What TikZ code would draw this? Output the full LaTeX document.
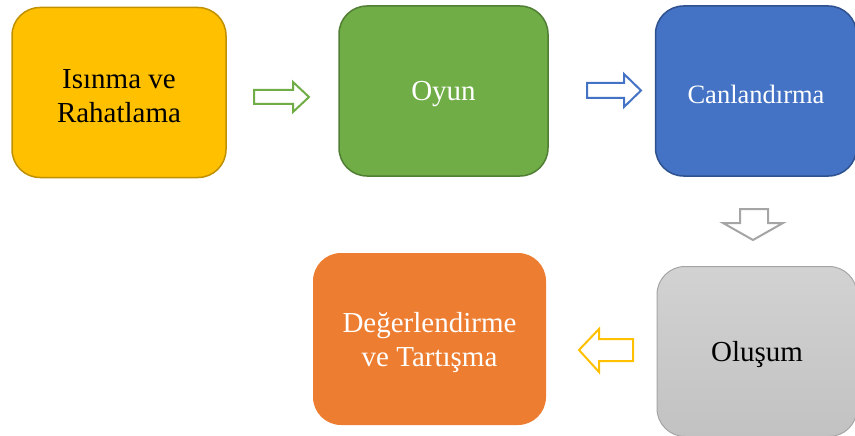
\documentclass[tikz,border=0pt]{standalone}
\usepackage{fontspec}
\setmainfont{Liberation Serif}

\definecolor{sari}{HTML}{FFC000}
\definecolor{sarikenar}{HTML}{BF9000}
\definecolor{yesil}{HTML}{70AD47}
\definecolor{yesilkenar}{HTML}{507E32}
\definecolor{mavi}{HTML}{4472C4}
\definecolor{mavikenar}{HTML}{2F528F}
\definecolor{griust}{HTML}{D2D2D2}
\definecolor{grialt}{HTML}{C2C2C2}
\definecolor{grikenar}{HTML}{A5A5A5}
\definecolor{turuncu}{HTML}{ED7D31}

\begin{document}
\begin{tikzpicture}[x=1pt,y=-1pt,
	kutu/.style={rounded corners=28pt, minimum width=#1, minimum height=170pt,
		inner sep=0pt, line width=1.5pt},
	yazi/.style={align=center, inner sep=0pt, yshift=-3.5pt,
		font=\fontsize{29}{34}\selectfont},
	ok/.style={line width=2pt, fill=white, line join=miter}]

			\useasboundingbox (0,0) rectangle (855,436);

			% Kutular (Schritte)
			\node[kutu=214pt, fill=sari, draw=sarikenar,
				label={[yazi]center:Isınma ve\\Rahatlama}] (isinma) at (119,92.5) {};
			\node[kutu=209pt, fill=yesil, draw=yesilkenar,
				label={[yazi, text=white]center:Oyun}] (oyun) at (443.5,91) {};
			\node[kutu=201pt, fill=mavi, draw=mavikenar,
				label={[yazi, text=white, font=\fontsize{26.5}{32}\selectfont]center:Canlandırma}] (canlandirma) at (756,91) {};
			\node[kutu=200pt, top color=griust, bottom color=grialt, draw=grikenar, line width=1pt,
				label={[yazi]center:Oluşum}] (olusum) at (757,351.5) {};
			\node[kutu=233pt, minimum height=172pt, fill=turuncu,
				label={[yazi, text=white]center:Değerlendirme\\ve Tartışma}] (degerlendirme) at (429.5,339) {};

			% Pfeil Isınma -> Oyun
			\draw[ok, draw=yesil] (254,90) -- (293,90) -- (293,82) -- (309,97)
			-- (293,112) -- (293,104) -- (254,104) -- cycle;

			% Pfeil Oyun -> Canlandırma
			\draw[ok, draw=mavi] (587,83) -- (624,83) -- (624,74) -- (641,90.5)
			-- (624,107) -- (624,98) -- (587,98) -- cycle;

			% Pfeil Canlandırma -> Oluşum
			\draw[ok, draw=grikenar] (740,209) -- (768,209) -- (768,223) -- (783,223)
			-- (753,240) -- (723,223) -- (740,223) -- cycle;

			% Pfeil Oluşum -> Değerlendirme
			\draw[ok, draw=sari] (633,339) -- (599,339) -- (599,329) -- (579,350)
			-- (599,372) -- (599,361) -- (633,361) -- cycle;
		\end{tikzpicture}
\end{document}
